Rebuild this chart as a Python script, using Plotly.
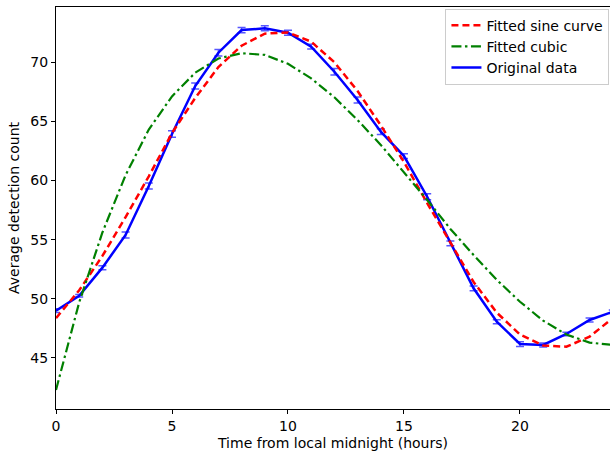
import plotly.graph_objects as go

hours = list(range(25))

original = [49.0, 50.26, 52.63, 55.39, 59.53, 63.92, 67.97, 70.79, 72.70, 72.85,
            72.48, 71.30, 69.18, 66.79, 64.12, 62.06, 58.62, 54.69, 50.89, 48.07,
            46.18, 46.10, 47.03, 48.21, 48.90]
original_err = [0.15, 0.10, 0.17, 0.25, 0.25, 0.28, 0.25, 0.28, 0.22, 0.21,
                0.21, 0.20, 0.28, 0.25, 0.25, 0.20, 0.25, 0.20, 0.20, 0.17,
                0.20, 0.17, 0.15, 0.17, 0.15]

sine_fit = [48.37, 50.72, 53.62, 56.90, 60.35, 64.00, 66.96, 69.58, 71.38, 72.40,
            72.50, 71.72, 69.98, 67.55, 64.65, 61.55, 58.08, 54.70, 51.42, 48.83,
            46.98, 46.05, 45.95, 46.80, 48.37]

cubic_fit = [42.30, 49.70, 55.60, 60.45, 64.30, 67.10, 69.10, 70.30, 70.75, 70.60,
             69.85, 68.62, 67.02, 65.10, 63.00, 60.70, 58.35, 55.90, 53.70, 51.60,
             49.75, 48.15, 46.98, 46.30, 46.10]

x_ticks = [0, 5, 10, 15, 20]
y_ticks = [45, 50, 55, 60, 65, 70]

font = dict(family="DejaVu Sans", size=14, color="black")

fig = go.Figure()

fig.add_trace(go.Scatter(
    x=hours, y=original, mode="lines", name="Original data",
    line=dict(color="#0000ff", width=2.5),
    error_y=dict(type="data", array=original_err, visible=True,
                 color="rgba(30,30,255,0.75)", thickness=1.5, width=4),
    legendrank=3,
))
fig.add_trace(go.Scatter(
    x=hours, y=sine_fit, mode="lines", name="Fitted sine curve",
    line=dict(color="#ff0000", width=2.5, dash="7px,4px"),
    legendrank=1,
))
fig.add_trace(go.Scatter(
    x=hours, y=cubic_fit, mode="lines", name="Fitted cubic",
    line=dict(color="#008000", width=2.2, dash="10px,3.5px,2.5px,3.5px"),
    legendrank=2,
))

fig.update_layout(
    width=610, height=455,
    margin=dict(l=56, r=0, t=7, b=46),
    paper_bgcolor="white", plot_bgcolor="white",
    font=font,
    showlegend=True,
    legend=dict(
        x=0.999, y=0.996, xanchor="right", yanchor="top",
        bgcolor="rgba(255,255,255,0.8)", bordercolor="#cccccc", borderwidth=1,
        font=dict(family="DejaVu Sans", size=14, color="black"),
        tracegroupgap=0, itemwidth=30,
    ),
    xaxis=dict(
        range=[0, 23.88], tickvals=x_ticks, ticktext=[str(v) for v in x_ticks],
        showline=True, linecolor="black", linewidth=1.2, mirror=True,
        ticks="outside", ticklen=4, tickcolor="black", tickwidth=1,
        showgrid=False, zeroline=False,
        title=dict(text="Time from local midnight (hours)", standoff=5,
                   font=dict(family="DejaVu Sans", size=14)),
    ),
    yaxis=dict(
        range=[40.69, 74.65], tickvals=y_ticks, ticktext=[str(v) for v in y_ticks],
        showline=True, linecolor="black", linewidth=1.2, mirror=False,
        ticks="outside", ticklen=4, tickcolor="black", tickwidth=1,
        showgrid=False, zeroline=False,
        title=dict(text="Average detection count", standoff=7,
                   font=dict(family="DejaVu Sans", size=14)),
    ),
)

fig.write_html("out.html")
